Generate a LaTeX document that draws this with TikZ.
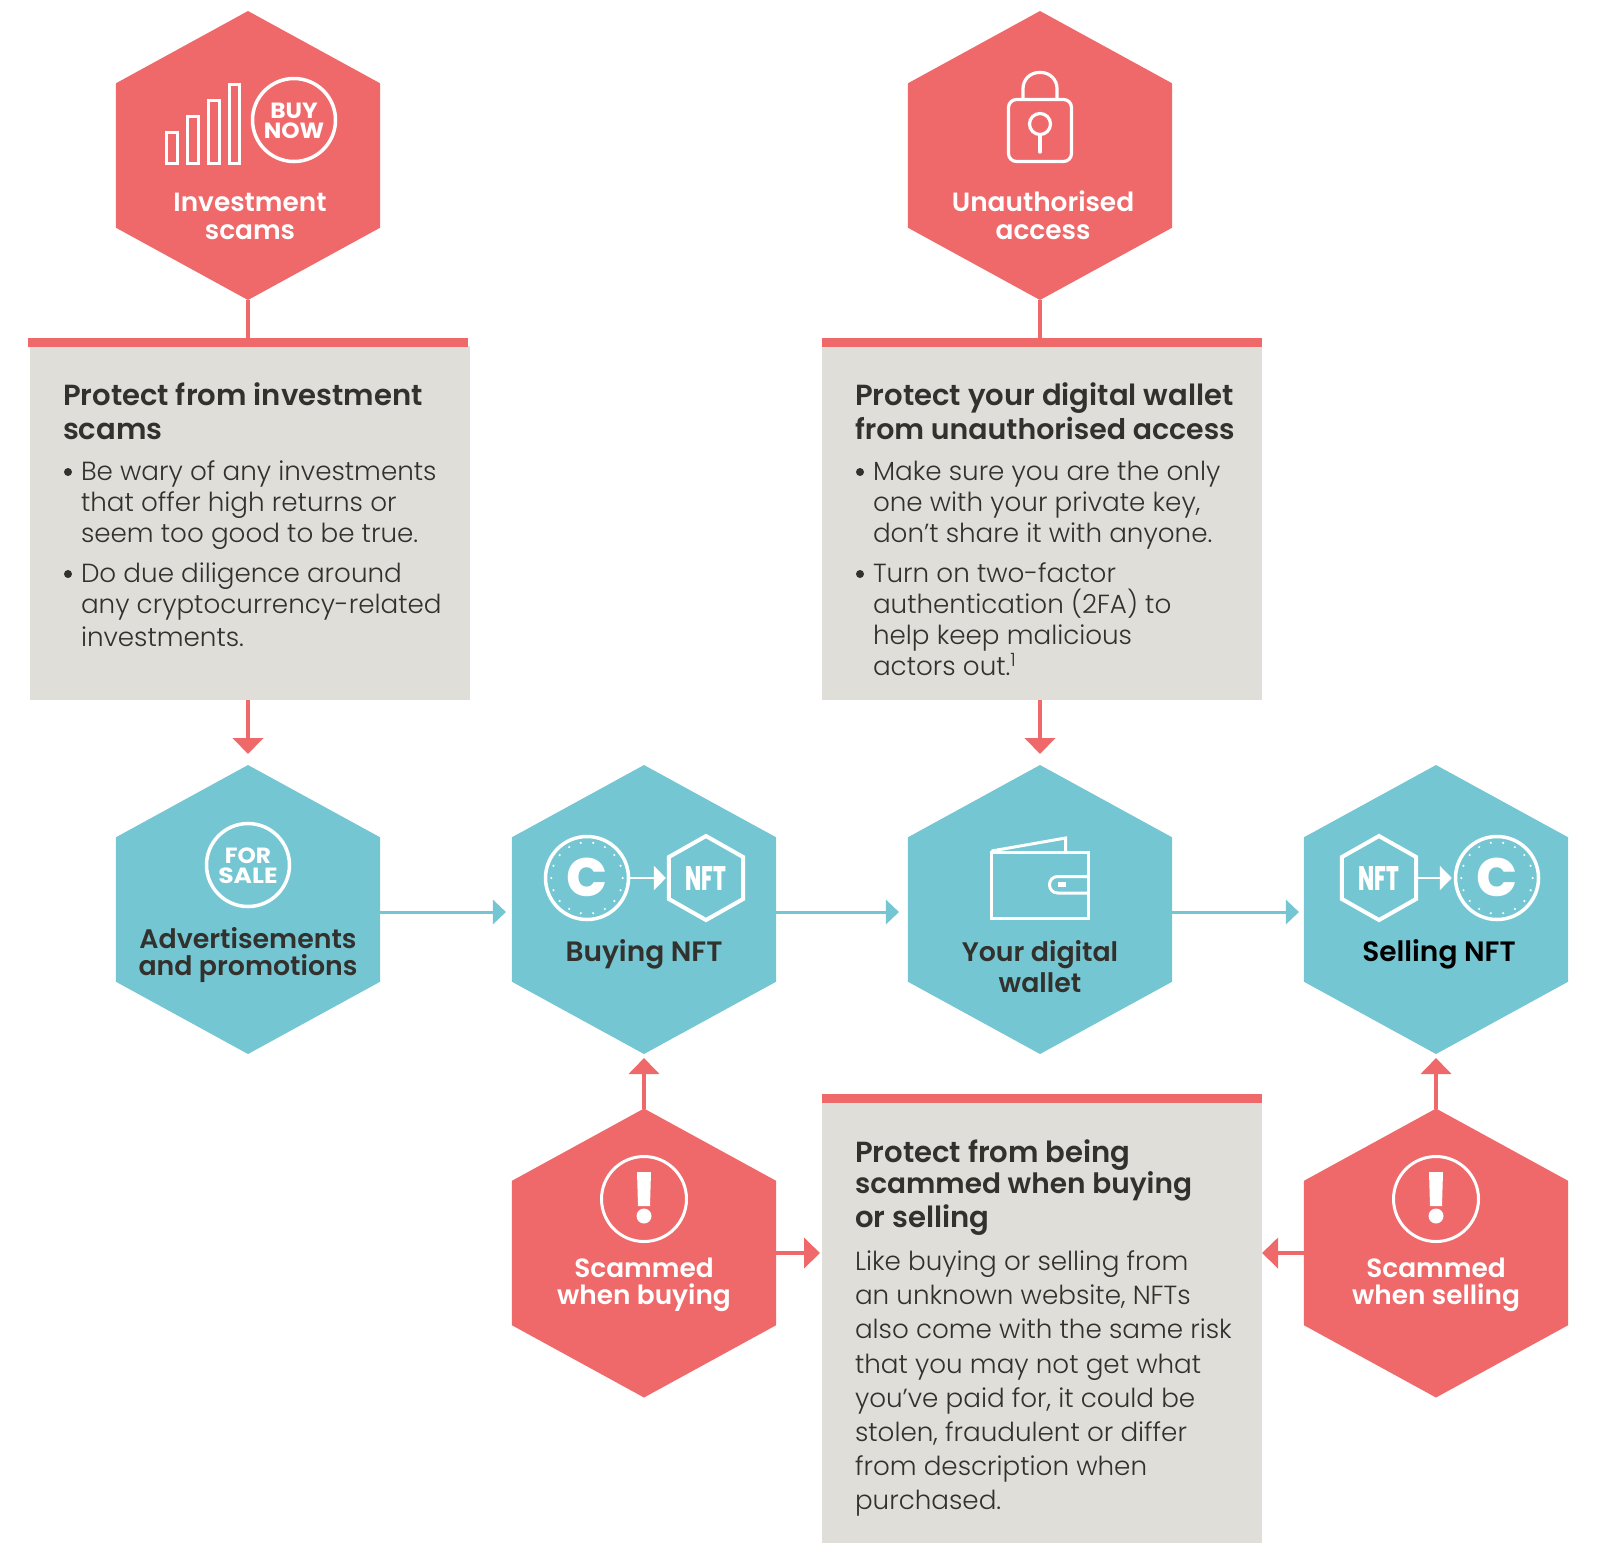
\documentclass[tikz,border=0pt]{standalone}
\usepackage{fontspec}
\usetikzlibrary{shapes.geometric,arrows.meta,calc}
\setmainfont{Poppins}
\newfontfamily\lightf{Poppins Light}
\newfontfamily\semif{Poppins SemiBold}
\newfontfamily\boldf{Poppins ExtraBold}
\newfontfamily\badgef{Poppins Bold}
\definecolor{redc}{HTML}{F0696A}
\definecolor{bluec}{HTML}{74C6D2}
\definecolor{greyc}{HTML}{DFDED9}
\definecolor{txtc}{HTML}{33312D}
\tikzset{
  x=0.5pt,y=-0.5pt,
  hexshape/.style={regular polygon,regular polygon sides=6,regular polygon rotate=30,minimum size=144.5pt,inner sep=0pt,outer sep=0pt,xscale=1.055,transform shape},
  redhex/.style={hexshape,fill=redc},
  bluehex/.style={hexshape,fill=bluec},
  panel/.style={rectangle,fill=greyc,inner sep=0pt,outer sep=0pt},
  topbar/.style={rectangle,fill=redc,inner sep=0pt,outer sep=0pt,minimum width=220pt,minimum height=4.5pt},
  bodyt/.style={anchor=base west,inner sep=0pt,outer sep=0pt,text=txtc,font=\lightf\fontsize{13.1pt}{13.1pt}\selectfont},
  headt/.style={anchor=base west,inner sep=0pt,outer sep=0pt,text=txtc,font=\semif\fontsize{14.55pt}{14.55pt}\selectfont},
  headn/.style={anchor=base west,inner sep=0pt,outer sep=0pt,text=txtc,font=\semif\fontsize{14.2pt}{14.2pt}\selectfont},
  headm/.style={anchor=base west,inner sep=0pt,outer sep=0pt,text=txtc,font=\semif\fontsize{14pt}{14pt}\selectfont},
  hexw/.style={anchor=base,inner sep=0pt,outer sep=0pt,text=white,font=\semif\fontsize{13.2pt}{13.2pt}\selectfont},
  hexd/.style={anchor=base,inner sep=0pt,outer sep=0pt,text=txtc,font=\semif\fontsize{13.4pt}{13.4pt}\selectfont},
  hexdl/.style={anchor=base,inner sep=0pt,outer sep=0pt,text=txtc,font=\semif\fontsize{14pt}{14pt}\selectfont},
  badge/.style={anchor=base,inner sep=0pt,outer sep=0pt,text=white,font=\badgef\fontsize{11pt}{11pt}\selectfont,xscale=1.06,transform shape},
  badgel/.style={anchor=base,inner sep=0pt,outer sep=0pt,text=white,font=\badgef\fontsize{11pt}{11pt}\selectfont,xscale=1.14,transform shape},
  ring/.style={circle,draw=white,line width=1.75pt,inner sep=0pt,minimum size=41.5pt},
  ringthin/.style={circle,draw=white,line width=1.5pt,inner sep=0pt,minimum size=42.5pt},
  nfthex/.style={regular polygon,regular polygon sides=6,regular polygon rotate=30,draw=white,line width=2pt,inner sep=0pt,outer sep=0pt,minimum size=42pt,xscale=1.02,transform shape},
  nftt/.style={anchor=base,inner sep=0pt,outer sep=0pt,text=white,font=\boldf\fontsize{17pt}{17pt}\selectfont,xscale=0.62,transform shape},
  coinc/.style={anchor=center,inner sep=0pt,outer sep=0pt,text=white,font=\boldf\fontsize{27pt}{27pt}\selectfont},
  redflow/.style={draw=redc,line width=2pt,-{Triangle[length=8pt,width=15pt]}},
  redstem/.style={draw=redc,line width=2pt},
  blueflow/.style={draw=bluec,line width=1.5pt,-{Triangle[length=6.5pt,width=12pt]}},
  iconflow/.style={draw=white,line width=1.25pt,-{Triangle[length=6pt,width=12pt]}},
  iconline/.style={draw=white,line width=1.5pt},
  dotmark/.style={fill=txtc},
}
\begin{document}
\begin{tikzpicture}
\useasboundingbox (0,0) rectangle (1600,1555);
% hexagons
\node[redhex] (inv) at (248,155.5) {};
\node[redhex] (una) at (1040,155.5) {};
\node[bluehex] (adv) at (248,909.5) {};
\node[bluehex] (buy) at (644,909.5) {};
\node[bluehex] (wal) at (1040,909.5) {};
\node[bluehex] (sel) at (1436,909.5) {};
\node[redhex] (sbuy) at (644,1253) {};
\node[redhex] (ssel) at (1436,1253) {};
% panels
\node[panel,minimum width=220pt,minimum height=177pt,anchor=north west] (pinv) at (30,346) {};
\node[panel,minimum width=220pt,minimum height=177pt,anchor=north west] (puna) at (822,346) {};
\node[panel,minimum width=220pt,minimum height=220.5pt,anchor=north west] (pscam) at (822,1102) {};
\node[topbar,anchor=north west] (binv) at (28,338) {};
\node[topbar,anchor=north west] (buna) at (822,338) {};
\node[topbar,anchor=north west] (bscam) at (822,1094) {};
% connectors
\draw[redstem] (inv.south) -- (inv.south |- binv.north);
\draw[redstem] (una.south) -- (una.south |- buna.north);
\draw[redflow,shorten >=5.5pt] (adv.north |- pinv.south) -- (adv.north);
\draw[redflow,shorten >=5.5pt] (wal.north |- puna.south) -- (wal.north);
\draw[blueflow,shorten >=3pt] ([yshift=-1.25pt]adv.east) -- ([yshift=-1.25pt]buy.west);
\draw[blueflow,shorten >=4.5pt] ([yshift=-1.25pt]buy.east) -- ([yshift=-1.25pt]wal.west);
\draw[blueflow,shorten >=2.5pt] ([yshift=-1.25pt]wal.east) -- ([yshift=-1.25pt]sel.west);
\draw[redflow,shorten >=2pt] (sbuy.north) -- (buy.south);
\draw[redflow,shorten >=2pt] (ssel.north) -- (sel.south);
\draw[redflow,shorten >=1pt] (sbuy.east) -- (sbuy.east -| pscam.west);
\draw[redflow] (ssel.west) -- (ssel.west -| pscam.east);
% investment icon
\draw[iconline] (166,132) rectangle (177,163);
\draw[iconline] (187,116) rectangle (198,163);
\draw[iconline] (208,100) rectangle (219,163);
\draw[iconline] (229,84) rectangle (239,163);
\node[ring] (buyring) at (294,120) {};
\node[badge] (tbuy) at (294,118.5) {BUY};
\node[badge] (tnow) at (294,138) {NOW};
\node[hexw] (l1) at (250,211.5) {Investment};
\node[hexw] (l2) at (250,239.5) {scams};
% lock icon
\draw[white,line width=1.6pt,rounded corners=4pt] (1008.5,99.5) rectangle (1071.5,161.5);
\draw[white,line width=1.6pt,rounded corners=8pt] (1023,98) -- (1023,72.5) -- (1057,72.5) -- (1057,98);
\node[circle,draw=white,line width=1.6pt,inner sep=0pt,minimum size=10.5pt] (keyh) at (1040,124) {};
\draw[white,line width=1.6pt,line cap=round] (keyh.south) -- ++(0,16);
\node[hexw] (l3) at (1043,211.5) {Unauthorised};
\node[hexw] (l4) at (1043,239.5) {access};
% advert icon
\node[ring] (salering) at (248,865) {};
\node[badge] (tfor) at (248,863.5) {FOR};
\node[badgel] (tsale) at (248,883) {SALE};
\node[hexd] (l5) at (248,948) {Advertisements};
\node[hexd] (l6) at (248,975) {and promotions};
% buying icon
\node[ring] (coina) at (587,878) {};
\foreach \a in {0,20,...,340} \fill[white] ($(coina.center)+(\a:35.7)$) circle (1.2);
\node[coinc] (ca) at (587,877) {C};
\node[nfthex] (nfta) at (706,878) {};
\node[nftt] (na) at (706,890) {NFT};
\draw[iconflow,shorten >=1.5pt] (coina.east) -- (nfta.west);
\node[hexdl] (l7) at (644,961.5) {Buying NFT};
% wallet icon
\draw[white,line width=1.5pt] (991.5,852.5) rectangle (1088.5,918);
\draw[white,line width=1.5pt,line join=miter] (991.5,851) -- (1065.5,838) -- (1065.5,852);
\draw[white,line width=1.5pt,rounded corners=4pt] (1088.5,876.5) -- (1049.5,876.5) -- (1049.5,893) -- (1088.5,893);
\fill[white] (1058,882) rectangle (1066,887);
\node[hexd] (l8) at (1040,961.5) {Your digital};
\node[hexd] (l9) at (1040,992) {wallet};
% selling icon
\node[nfthex] (nftb) at (1379,878) {};
\node[nftt] (nb) at (1379,890) {NFT};
\node[ring] (coinb) at (1497,878) {};
\foreach \a in {0,20,...,340} \fill[white] ($(coinb.center)+(\a:35.7)$) circle (1.2);
\node[coinc] (cb) at (1497,877) {C};
\draw[iconflow,shorten >=1pt] (nftb.east) -- (coinb.west);
\node[hexdl,text=black] (l10) at (1439,961.5) {Selling NFT};
% alert icons
\node[ringthin] (ala) at (644,1199) {};
\fill[white] (637,1172) -- (651,1172) -- (650,1206) -- (638,1206) -- cycle;
\fill[white] (644,1216) circle (7.5);
\node[hexw] (l11) at (644,1277) {Scammed};
\node[hexw] (l12) at (644,1304.5) {when buying};
\node[ringthin] (alb) at (1436,1199) {};
\fill[white] (1429,1172) -- (1443,1172) -- (1442,1206) -- (1430,1206) -- cycle;
\fill[white] (1436,1216) circle (7.5);
\node[hexw] (l13) at (1436,1277) {Scammed};
\node[hexw] (l14) at (1436,1304.5) {when selling};
% left panel text
\node[headt] (a1) at (63,405) {Protect from investment};
\node[headt] (a2) at (63,439) {scams};
\fill[dotmark] (68,472) circle (4);
\node[bodyt] (a3) at (81,480) {Be wary of any investments};
\node[bodyt] (a4) at (81,511) {that offer high returns or};
\node[bodyt] (a5) at (81,542) {seem too good to be true.};
\fill[dotmark] (68,574) circle (4);
\node[bodyt] (a6) at (81,582) {Do due diligence around};
\node[bodyt] (a7) at (81,613) {any cryptocurrency-related};
\node[bodyt] (a8) at (81,646) {investments.};
% right panel text
\node[headt] (b1) at (855,405) {Protect your digital wallet};
\node[headn] (b2) at (855,439) {from unauthorised access};
\fill[dotmark] (860,472) circle (4);
\node[bodyt] (b3) at (873,480) {Make sure you are the only};
\node[bodyt] (b4) at (873,511) {one with your private key,};
\node[bodyt] (b5) at (873,542) {don’t share it with anyone.};
\fill[dotmark] (860,574) circle (4);
\node[bodyt] (b6) at (873,582) {Turn on two-factor};
\node[bodyt] (b7) at (873,613) {authentication (2FA) to};
\node[bodyt] (b8) at (873,644) {help keep malicious};
\node[bodyt] (b9) at (873,675) {actors out.\textsuperscript{1}};
% lower panel text
\node[headt] (c1) at (855,1162) {Protect from being};
\node[headm] (c2) at (855,1193) {scammed when buying};
\node[headt] (c3) at (855,1227) {or selling};
\node[bodyt] (c4) at (855,1270) {Like buying or selling from};
\node[bodyt] (c5) at (855,1304) {an unknown website, NFTs};
\node[bodyt] (c6) at (855,1338) {also come with the same risk};
\node[bodyt] (c7) at (855,1373) {that you may not get what};
\node[bodyt] (c8) at (855,1407) {you’ve paid for, it could be};
\node[bodyt] (c9) at (855,1441) {stolen, fraudulent or differ};
\node[bodyt] (c10) at (855,1475) {from description when};
\node[bodyt] (c11) at (855,1509) {purchased.};
\end{tikzpicture}
\end{document}
